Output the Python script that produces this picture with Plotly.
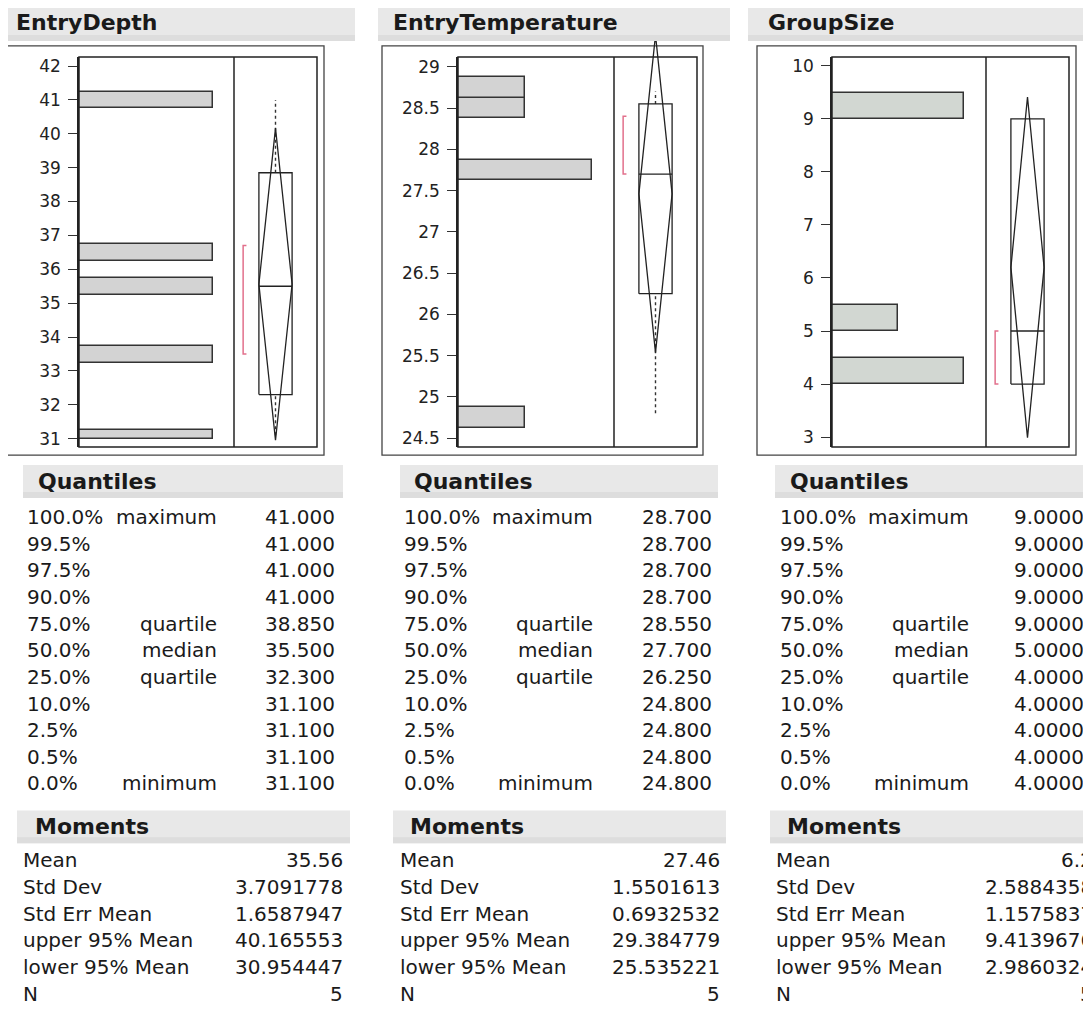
import plotly.graph_objects as go

W, H = 1091, 1009
OFF = 8  # default page body margin in the browser
FW, FH = W - OFF, H - OFF

# ---------------- data ----------------
variables = ["EntryDepth", "EntryTemperature", "GroupSize"]

depth_bin_lo = [31.0, 33.25, 35.25, 36.25, 40.75]
depth_bin_hi = [31.25, 33.75, 35.75, 36.75, 41.25]
depth_counts = [1, 1, 1, 1, 1]

temp_bin_lo = [24.625, 27.625, 28.375, 28.625]
temp_bin_hi = [24.875, 27.875, 28.625, 28.875]
temp_counts = [1, 2, 1, 1]

group_bin_lo = [4.0, 5.0, 9.0]
group_bin_hi = [4.5, 5.5, 9.5]
group_counts = [2, 1, 2]

depth_ticks = [31, 32, 33, 34, 35, 36, 37, 38, 39, 40, 41, 42]
temp_ticks = [24.5, 25, 25.5, 26, 26.5, 27, 27.5, 28, 28.5, 29]
group_ticks = [3, 4, 5, 6, 7, 8, 9, 10]

quantile_pcts = ["100.0%", "99.5%", "97.5%", "90.0%", "75.0%", "50.0%",
                 "25.0%", "10.0%", "2.5%", "0.5%", "0.0%"]
quantile_names = ["maximum", "", "", "", "quartile", "median", "quartile",
                  "", "", "", "minimum"]
depth_quantiles = [41.0, 41.0, 41.0, 41.0, 38.85, 35.5, 32.3, 31.1, 31.1, 31.1, 31.1]
temp_quantiles = [28.7, 28.7, 28.7, 28.7, 28.55, 27.7, 26.25, 24.8, 24.8, 24.8, 24.8]
group_quantiles = [9, 9, 9, 9, 9, 5, 4, 4, 4, 4, 4]

moment_labels = ["Mean", "Std Dev", "Std Err Mean", "upper 95% Mean",
                 "lower 95% Mean", "N"]
depth_moments = [35.56, 3.7091778, 1.6587947, 40.165553, 30.954447, 5]
temp_moments = [27.46, 1.5501613, 0.6932532, 29.384779, 25.535221, 5]
group_moments = [6.2, 2.5884358, 1.1575837, 9.4139676, 2.9860324, 5]

depth_shortest_half = [33.5, 36.7]
temp_shortest_half = [27.7, 28.4]
group_shortest_half = [4, 5]

# ---------------- layout geometry (page pixels) ----------------
def fx(p):
    return (p - OFF) / FW

def fy(p):
    return 1 - (p - OFF) / FH

panels = [
    dict(lo=depth_bin_lo, hi=depth_bin_hi, cnt=depth_counts, ticks=depth_ticks,
         q=depth_quantiles, m=depth_moments, sh=depth_shortest_half, dec=3,
         yr=[30.75, 42.27], xr=[0, 1.16], hist=(79, 234), box=(234, 317),
         outer=(6, 45, 324, 455), hband=(3, 5, 355, 40), tx=14,
         qx=25, qmid=219, qval=337, mx=21, mval=345,
         qband=(23, 465, 343, 498), mband=(17, 811, 350, 844), qtx=36, mtx=33,
         bar="#d3d3d3"),
    dict(lo=temp_bin_lo, hi=temp_bin_hi, cnt=temp_counts, ticks=temp_ticks,
         q=temp_quantiles, m=temp_moments, sh=temp_shortest_half, dec=3,
         yr=[24.39, 29.12], xr=[0, 2.33], hist=(458, 614), box=(614, 697),
         outer=(382, 45, 703, 455), hband=(378, 5, 730, 40), tx=391,
         qx=402, qmid=595, qval=714, mx=398, mval=722,
         qband=(400, 465, 718, 498), mband=(393, 811, 726, 844), qtx=412, mtx=408,
         bar="#d3d3d3"),
    dict(lo=group_bin_lo, hi=group_bin_hi, cnt=group_counts, ticks=group_ticks,
         q=group_quantiles, m=group_moments, sh=group_shortest_half, dec=4,
         yr=[2.81, 10.17], xr=[0, 2.33], hist=(832, 986), box=(986, 1069),
         outer=(757, 45, 1076, 455), hband=(748, 5, 1095, 40), tx=766,
         qx=778, qmid=971, qval=1086, mx=774, mval=1095,
         qband=(775, 465, 1095, 498), mband=(770, 811, 1095, 844), qtx=788, mtx=785,
         bar="#d2d7d2"),
]

TOP, BOT, BOXTOP = 56, 447, 40
FONT = "DejaVu Sans"
INK = "#1a1a1a"
LINE = "#222222"

fig = go.Figure()
shapes = []
annotations = []
layout = dict(
    width=FW, height=FH, autosize=False,
    margin=dict(l=0, r=0, t=0, b=0),
    paper_bgcolor="white", plot_bgcolor="white",
    showlegend=False, bargap=0,
    font=dict(family=FONT, color=INK),
)

for i, (name, p) in enumerate(zip(variables, panels)):
    hx, hy = 2 * i + 1, 2 * i + 1
    bx, by = 2 * i + 2, 2 * i + 2
    xh = "x" if hx == 1 else f"x{hx}"
    yh = "y" if hy == 1 else f"y{hy}"
    xb, yb = f"x{bx}", f"y{by}"
    lo_r, hi_r = p["yr"]
    scale = (hi_r - lo_r) / (BOT - TOP)
    box_range = [lo_r, hi_r + (TOP - BOXTOP) * scale]

    # histogram bars
    centers = [(a + b) / 2 for a, b in zip(p["lo"], p["hi"])]
    widths = [b - a for a, b in zip(p["lo"], p["hi"])]
    fig.add_trace(go.Bar(
        orientation="h", y=centers, x=p["cnt"], width=widths, base=0,
        marker=dict(color=p["bar"], line=dict(color="#333333", width=1.5)),
        xaxis=xh, yaxis=yh, hoverinfo="skip"))

    # box plot components
    q = p["q"]
    qmax, q3, med, q1, qmin = q[0], q[4], q[5], q[6], q[10]
    mean, up95, lo95 = p["m"][0], p["m"][3], p["m"][4]
    c, hw = 0.5, 0.2
    for a, b in [(q3, qmax), (qmin, q1)]:
        fig.add_trace(go.Scatter(x=[c, c], y=[a, b], mode="lines",
                                 line=dict(color="#333333", width=1.4, dash="dot"),
                                 xaxis=xb, yaxis=yb, hoverinfo="skip"))
    fig.add_trace(go.Scatter(x=[c - hw, c + hw, c + hw, c - hw, c - hw],
                             y=[q1, q1, q3, q3, q1], mode="lines",
                             line=dict(color=LINE, width=1.3),
                             xaxis=xb, yaxis=yb, hoverinfo="skip"))
    fig.add_trace(go.Scatter(x=[c - hw, c + hw], y=[med, med], mode="lines",
                             line=dict(color=LINE, width=1.3),
                             xaxis=xb, yaxis=yb, hoverinfo="skip"))
    fig.add_trace(go.Scatter(x=[c, c + hw, c, c - hw, c],
                             y=[up95, mean, lo95, mean, up95], mode="lines",
                             line=dict(color=LINE, width=1.3),
                             xaxis=xb, yaxis=yb, hoverinfo="skip"))
    s0, s1 = p["sh"]
    bxp = 0.11
    fig.add_trace(go.Scatter(x=[bxp + 0.04, bxp, bxp, bxp + 0.04],
                             y=[s1, s1, s0, s0], mode="lines",
                             line=dict(color="#e2708c", width=1.5),
                             xaxis=xb, yaxis=yb, hoverinfo="skip"))

    # axes
    ax_h = "xaxis" if hx == 1 else f"xaxis{hx}"
    ay_h = "yaxis" if hy == 1 else f"yaxis{hy}"
    layout[ax_h] = dict(domain=[fx(p["hist"][0]), fx(p["hist"][1])], range=p["xr"],
                        visible=False, anchor=yh, fixedrange=True)
    layout[ay_h] = dict(domain=[fy(BOT), fy(TOP)], range=p["yr"], anchor=xh,
                        tickmode="array", tickvals=p["ticks"],
                        ticktext=[f"{v:g}" for v in p["ticks"]],
                        ticks="outside", ticklen=9, tickwidth=1.3, tickcolor="#333333",
                        tickfont=dict(size=17, color="#222222", family=FONT),
                        ticklabelstandoff=4,
                        showline=True, linecolor=LINE, linewidth=1.5,
                        showgrid=False, zeroline=False, fixedrange=True)
    layout[f"xaxis{bx}"] = dict(domain=[fx(p["box"][0]), fx(p["box"][1])], range=[0, 1],
                                visible=False, anchor=yb, fixedrange=True)
    layout[f"yaxis{by}"] = dict(domain=[fy(BOT), min(1.0, fy(BOXTOP))], range=box_range,
                                visible=False, anchor=xb, fixedrange=True)

    # frames
    ox0, oy0, ox1, oy1 = p["outer"]
    shapes.append(dict(type="rect", xref="paper", yref="paper",
                       x0=fx(ox0), x1=fx(ox1), y0=fy(oy1), y1=fy(oy0),
                       line=dict(color="#444444", width=1.3), layer="below"))
    shapes.append(dict(type="rect", xref="paper", yref="paper",
                       x0=fx(p["hist"][0]), x1=fx(p["box"][1]), y0=fy(BOT), y1=fy(TOP),
                       line=dict(color=LINE, width=1.5), layer="above"))
    shapes.append(dict(type="line", xref="paper", yref="paper",
                       x0=fx(p["hist"][1]), x1=fx(p["hist"][1]), y0=fy(BOT), y1=fy(TOP),
                       line=dict(color=LINE, width=1.5), layer="above"))

    # header bands
    for (bx0, by0, bx1, by1) in [p["hband"], p["qband"], p["mband"]]:
        shapes.append(dict(type="rect", xref="paper", yref="paper",
                           x0=fx(bx0), x1=fx(bx1), y0=fy(by1), y1=fy(by0),
                           fillcolor="#e8e8e8", line=dict(width=0), layer="below"))
        shapes.append(dict(type="rect", xref="paper", yref="paper",
                           x0=fx(bx0), x1=fx(bx1), y0=fy(by1), y1=fy(by1 - 6),
                           fillcolor="#dddddd", line=dict(width=0), layer="below"))

    def txt(x, y, s, anchor="left", size=20, bold=False):
        annotations.append(dict(
            x=fx(x), y=fy(y), xref="paper", yref="paper", showarrow=False,
            text=f"<b>{s}</b>" if bold else s, xanchor=anchor, yanchor="middle",
            font=dict(family=FONT, size=size, color=INK)))

    txt(p["tx"], 22, name, size=22, bold=True)
    txt(p["qtx"], 481, "Quantiles", size=22, bold=True)
    txt(p["mtx"], 827, "Moments", size=22, bold=True)

    for r in range(len(quantile_pcts)):
        y = 517 + 26.7 * r
        txt(p["qx"], y, quantile_pcts[r])
        if quantile_names[r]:
            txt(p["qmid"], y, quantile_names[r], anchor="right")
        txt(p["qval"], y, f"{q[r]:.{p['dec']}f}", anchor="right")

    for r in range(len(moment_labels)):
        y = 861 + 26.7 * r
        txt(p["mx"], y, moment_labels[r])
        txt(p["mval"], y, str(p["m"][r]), anchor="right")

layout["shapes"] = shapes
layout["annotations"] = annotations
fig.update_layout(**layout)
fig.write_html("out.html")
